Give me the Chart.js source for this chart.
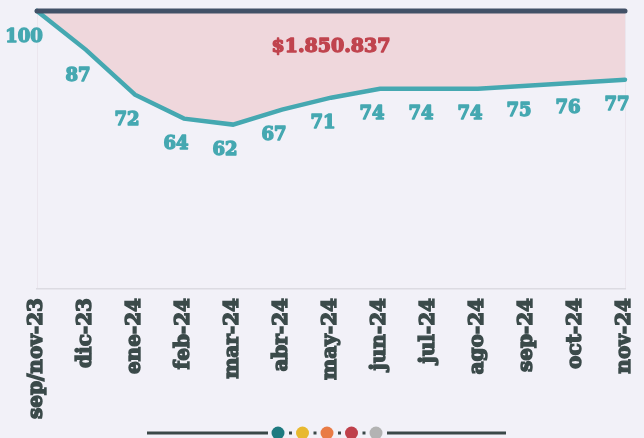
<!DOCTYPE html>
<html>
<head>
<meta charset="utf-8">
<script src="https://cdn.jsdelivr.net/npm/chart.js@4/dist/chart.umd.min.js"></script>
<style>
  html, body { margin: 0; padding: 0; background: #f2f1f8; }
  #wrap { width: 644px; height: 438px; position: relative; }
</style>
</head>
<body>
<div id="wrap"><canvas id="indexChart" width="644" height="438"></canvas></div>
<script>
// datos del gráfico
const months = ['sep/nov-23', 'dic-23', 'ene-24', 'feb-24', 'mar-24', 'abr-24', 'may-24',
                'jun-24', 'jul-24', 'ago-24', 'sep-24', 'oct-24', 'nov-24'];
const baseValues = [100, 100, 100, 100, 100, 100, 100, 100, 100, 100, 100, 100, 100];
const indexValues = [100, 87, 72, 64, 62, 67, 71, 74, 74, 74, 75, 76, 77];
const gapLabel = '$1.850.837';
const gapLabelValue = 88;
const footerColors = ['#1e7a80', '#e8b92f', '#e97b45', '#bf404b', '#b3b3b3'];

const serif = '"DejaVu Serif", serif';

// texto "negrita" con trazo extra
function boldText(ctx, txt, x, y, color, w) {
    ctx.fillStyle = color;
    ctx.strokeStyle = color;
    ctx.lineWidth = w;
    ctx.lineJoin = 'round';
    ctx.strokeText(txt, x, y);
    ctx.fillText(txt, x, y);
}

// etiquetas de valores y leyenda inferior
const extras = {
    id: 'extras',
    afterDatasetsDraw(chart) {
        const ctx = chart.ctx;
        const meta = chart.getDatasetMeta(1);
        ctx.save();
        ctx.font = 'bold 18px ' + serif;
        ctx.textAlign = 'center';
        ctx.textBaseline = 'middle';
        meta.data.forEach(function(pt, i) {
            let x = pt.x - 8;
            if (i === 0) x = pt.x - 13;
            boldText(ctx, String(indexValues[i]), x, pt.y + 26, '#45a8b1', 1.4);
        });

        const area = chart.chartArea;
        ctx.font = 'bold 19px ' + serif;
        boldText(ctx, gapLabel, (area.left + area.right) / 2, chart.scales.y.getPixelForValue(gapLabelValue), '#c0444e', 1.4);
        ctx.restore();
    },
    afterDraw(chart) {
        const ctx = chart.ctx;
        const cx = chart.width / 2 + 5;
        const y = chart.height - 5;
        ctx.save();
        ctx.strokeStyle = '#3a4848';
        ctx.lineWidth = 3;
        ctx.beginPath();
        ctx.moveTo(cx - 180, y); ctx.lineTo(cx - 59, y);
        ctx.moveTo(cx + 60, y); ctx.lineTo(cx + 179, y);
        ctx.stroke();
        footerColors.forEach(function(c, i) {
            const dx = cx - 49 + i * 24.5;
            ctx.fillStyle = c;
            ctx.beginPath();
            ctx.arc(dx, y, 6.5, 0, Math.PI * 2);
            ctx.fill();
            if (i < footerColors.length - 1) {
                ctx.fillStyle = '#3a4848';
                ctx.fillRect(dx + 11, y - 1.5, 3, 3);
            }
        });
        ctx.restore();
    }
};

const ctx = document.getElementById('indexChart').getContext('2d');
new Chart(ctx, {
    type: 'line',
    data: {
        labels: months,
        datasets: [{
            data: baseValues,
            borderColor: '#425167',
            borderWidth: 5,
            borderCapStyle: 'round',
            pointRadius: 0,
            fill: false,
            order: 0
        }, {
            data: indexValues,
            borderColor: '#45a8b1',
            backgroundColor: 'rgba(235, 165, 170, 0.35)',
            borderWidth: 4.5,
            borderCapStyle: 'round',
            tension: 0,
            pointRadius: 0,
            fill: '-1',
            order: 1
        }]
    },
    options: {
        responsive: false,
        animation: false,
        clip: false,
        layout: { padding: { left: 37, right: 19, top: 11, bottom: 0 } },
        plugins: { legend: { display: false }, tooltip: { enabled: false } },
        scales: {
            x: {
                offset: false,
                afterFit(scale) {
                    scale.height = 149;
                    scale.paddingLeft = 0;
                    scale.paddingRight = 0;
                },
                border: { color: '#dcdbe2', width: 1.5 },
                grid: {
                    drawTicks: false,
                    color: function(c) {
                        return (c.index === 0 || c.index === months.length - 1) ? '#ebe6ee' : 'rgba(0,0,0,0)';
                    }
                },
                ticks: {
                    minRotation: 90,
                    maxRotation: 90,
                    padding: 9,
                    color: '#3b4a4a',
                    textStrokeColor: '#3b4a4a',
                    textStrokeWidth: 1.4,
                    font: { family: serif, size: 20, weight: 'bold' }
                }
            },
            y: {
                display: false,
                min: 7,
                max: 100
            }
        }
    },
    plugins: [extras]
});
</script>
</body>
</html>
